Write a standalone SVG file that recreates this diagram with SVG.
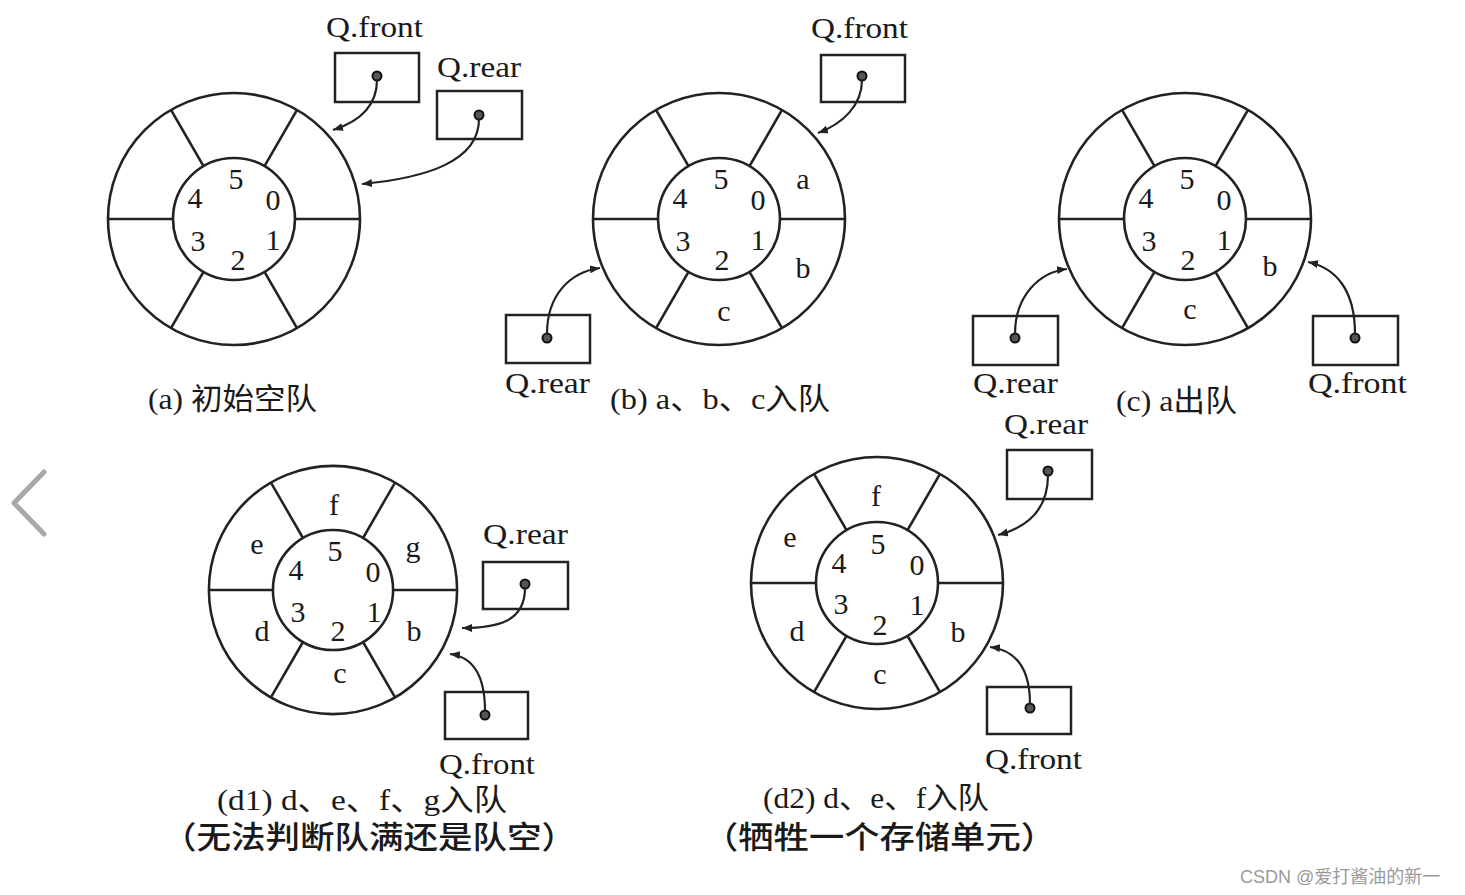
<svg xmlns="http://www.w3.org/2000/svg" xmlns:xlink="http://www.w3.org/1999/xlink" width="1465" height="895" viewBox="0 0 1465 895">
<style>
.ln{fill:none;stroke:#222;stroke-width:2.6}
.bx{fill:none;stroke:#222;stroke-width:2.5}
.dot{fill:#555;stroke:#111;stroke-width:2}
.cn{fill:none;stroke:#222;stroke-width:2.2}
text{font-family:"Liberation Serif","Noto Sans CJK SC",serif;fill:#1a1a1a}
.nm{font-size:30px;text-anchor:middle;dominant-baseline:central}
.lt{font-size:30px;text-anchor:middle;dominant-baseline:central}
.ql{font-size:30px}
.cap{font-size:30px}
.cap2{font-size:31px;font-weight:500}
.wm{font-family:"Liberation Sans","Noto Sans CJK SC",sans-serif;font-size:18px;fill:#9a9a9a}
</style>
<defs>
<g id="wheel">
<circle class="ln" r="126"/>
<circle class="ln" r="61"/>
<line class="ln" x1="61" y1="0" x2="126" y2="0"/>
<line class="ln" x1="-61" y1="0" x2="-126" y2="0"/>
<line class="ln" x1="30.5" y1="-52.8" x2="63" y2="-109.1"/>
<line class="ln" x1="-30.5" y1="-52.8" x2="-63" y2="-109.1"/>
<line class="ln" x1="30.5" y1="52.8" x2="63" y2="109.1"/>
<line class="ln" x1="-30.5" y1="52.8" x2="-63" y2="109.1"/>
</g>
<marker id="ah" markerUnits="userSpaceOnUse" markerWidth="12" markerHeight="10" refX="10" refY="4" orient="auto">
<path d="M0,0 L10,4 L0,8 Z" fill="#222"/>
</marker>
</defs>
<rect width="1465" height="895" fill="#fff"/>

<!-- (a) -->
<g id="qa">
<use xlink:href="#wheel" transform="translate(234,219)"/>
<text class="nm" x="236" y="178">5</text>
<text class="nm" x="195" y="197">4</text>
<text class="nm" x="273" y="199">0</text>
<text class="nm" x="198" y="240">3</text>
<text class="nm" x="238" y="259">2</text>
<text class="nm" x="273" y="239">1</text>
<text class="cap" x="148" y="409" textLength="169" lengthAdjust="spacingAndGlyphs">(a) 初始空队</text>
</g>
<g id="qa-front">
<rect class="bx" x="335" y="53" width="84" height="49"/>
<circle class="dot" cx="377" cy="76" r="4.5"/>
<text class="ql" x="326" y="37" textLength="97" lengthAdjust="spacingAndGlyphs">Q.front</text>
</g>
<g id="qa-rear">
<rect class="bx" x="437" y="91" width="85" height="48"/>
<circle class="dot" cx="479" cy="115" r="4.5"/>
<text class="ql" x="437" y="77" textLength="84" lengthAdjust="spacingAndGlyphs">Q.rear</text>
</g>

<!-- (b) -->
<g id="qb">
<use xlink:href="#wheel" transform="translate(719,219)"/>
<text class="nm" x="721" y="178">5</text>
<text class="nm" x="680" y="197">4</text>
<text class="nm" x="758" y="199">0</text>
<text class="nm" x="683" y="240">3</text>
<text class="nm" x="722" y="259">2</text>
<text class="nm" x="758" y="239">1</text>
<text class="lt" x="803" y="178">a</text>
<text class="lt" x="803" y="267">b</text>
<text class="lt" x="724" y="310">c</text>
<text class="cap" x="610" y="409" textLength="220" lengthAdjust="spacingAndGlyphs">(b) a、b、c入队</text>
</g>
<g id="qb-front">
<rect class="bx" x="821" y="55" width="84" height="47"/>
<circle class="dot" cx="862" cy="76" r="4.5"/>
<text class="ql" x="811" y="38" textLength="97" lengthAdjust="spacingAndGlyphs">Q.front</text>
</g>
<g id="qb-rear">
<rect class="bx" x="506" y="315" width="84" height="48"/>
<circle class="dot" cx="547" cy="338" r="4.5"/>
<text class="ql" x="505" y="393" textLength="85" lengthAdjust="spacingAndGlyphs">Q.rear</text>
</g>

<!-- (c) -->
<g id="qc">
<use xlink:href="#wheel" transform="translate(1185,219)"/>
<text class="nm" x="1187" y="178">5</text>
<text class="nm" x="1146" y="197">4</text>
<text class="nm" x="1224" y="199">0</text>
<text class="nm" x="1149" y="240">3</text>
<text class="nm" x="1188" y="259">2</text>
<text class="nm" x="1224" y="239">1</text>
<text class="lt" x="1270" y="265">b</text>
<text class="lt" x="1190" y="308">c</text>
<text class="cap" x="1116" y="411" textLength="121" lengthAdjust="spacingAndGlyphs">(c) a出队</text>
</g>
<g id="qc-rear">
<rect class="bx" x="973" y="316" width="85" height="49"/>
<circle class="dot" cx="1015" cy="338" r="4.5"/>
<text class="ql" x="973" y="393" textLength="85" lengthAdjust="spacingAndGlyphs">Q.rear</text>
</g>
<g id="qc-front">
<rect class="bx" x="1313" y="316" width="85" height="49"/>
<circle class="dot" cx="1355" cy="338" r="4.5"/>
<text class="ql" x="1308" y="393" textLength="99" lengthAdjust="spacingAndGlyphs">Q.front</text>
</g>

<!-- (d1) -->
<g id="qd1">
<use xlink:href="#wheel" transform="translate(333,590) scale(0.985)"/>
<text class="nm" x="335" y="550">5</text>
<text class="nm" x="296" y="569">4</text>
<text class="nm" x="373" y="571">0</text>
<text class="nm" x="298" y="611">3</text>
<text class="nm" x="338" y="630">2</text>
<text class="nm" x="374" y="611">1</text>
<text class="lt" x="334" y="504">f</text>
<text class="lt" x="257" y="543">e</text>
<text class="lt" x="413" y="546">g</text>
<text class="lt" x="262" y="630">d</text>
<text class="lt" x="414" y="630">b</text>
<text class="lt" x="340" y="672">c</text>
<text class="cap" x="217" y="810" textLength="290" lengthAdjust="spacingAndGlyphs">(d1) d、e、f、g入队</text>
<text class="cap2" x="162" y="848" textLength="414" lengthAdjust="spacingAndGlyphs">（无法判断队满还是队空）</text>
</g>
<g id="qd1-rear">
<rect class="bx" x="483" y="562" width="85" height="47"/>
<circle class="dot" cx="525" cy="584" r="4.5"/>
<text class="ql" x="483" y="544" textLength="85" lengthAdjust="spacingAndGlyphs">Q.rear</text>
</g>
<g id="qd1-front">
<rect class="bx" x="445" y="692" width="83" height="47"/>
<circle class="dot" cx="485" cy="715" r="4.5"/>
<text class="ql" x="439" y="774" textLength="96" lengthAdjust="spacingAndGlyphs">Q.front</text>
</g>

<!-- (d2) -->
<g id="qd2">
<use xlink:href="#wheel" transform="translate(877,583)"/>
<text class="nm" x="878" y="543">5</text>
<text class="nm" x="839" y="562">4</text>
<text class="nm" x="917" y="564">0</text>
<text class="nm" x="841" y="603">3</text>
<text class="nm" x="880" y="624">2</text>
<text class="nm" x="917" y="604">1</text>
<text class="lt" x="876" y="495">f</text>
<text class="lt" x="790" y="536">e</text>
<text class="lt" x="797" y="630">d</text>
<text class="lt" x="958" y="631">b</text>
<text class="lt" x="880" y="673">c</text>
<text class="cap" x="763" y="808" textLength="226" lengthAdjust="spacingAndGlyphs">(d2) d、e、f入队</text>
<text class="cap2" x="703" y="848" textLength="353" lengthAdjust="spacingAndGlyphs">（牺牲一个存储单元）</text>
</g>
<g id="qd2-rear">
<rect class="bx" x="1007" y="450" width="85" height="49"/>
<circle class="dot" cx="1048" cy="471" r="4.5"/>
<text class="ql" x="1004" y="434" textLength="84" lengthAdjust="spacingAndGlyphs">Q.rear</text>
</g>
<g id="qd2-front">
<rect class="bx" x="987" y="687" width="84" height="47"/>
<circle class="dot" cx="1030" cy="708" r="4.5"/>
<text class="ql" x="985" y="769" textLength="97" lengthAdjust="spacingAndGlyphs">Q.front</text>
</g>

<!-- connectors -->
<g id="connectors">
<path class="cn" marker-end="url(#ah)" d="M377,80 C377,108 358,122 333,130"/>
<path class="cn" marker-end="url(#ah)" d="M479,119 C479,162 425,178 362,184"/>
<path class="cn" marker-end="url(#ah)" d="M862,80 C862,106 842,124 818,133"/>
<path class="cn" marker-end="url(#ah)" d="M547,334 C547,295 570,272 600,268"/>
<path class="cn" marker-end="url(#ah)" d="M1015,334 C1015,295 1040,272 1067,269"/>
<path class="cn" marker-end="url(#ah)" d="M1355,334 C1355,290 1336,268 1308,262"/>
<path class="cn" marker-end="url(#ah)" d="M525,588 C525,622 497,628 462,628"/>
<path class="cn" marker-end="url(#ah)" d="M485,711 C485,678 474,657 450,654"/>
<path class="cn" marker-end="url(#ah)" d="M1048,475 C1048,512 1025,528 998,535"/>
<path class="cn" marker-end="url(#ah)" d="M1030,704 C1030,668 1015,650 990,647"/>
</g>

<polyline points="44,472 14,503 44,534" fill="none" stroke="#a8a8a8" stroke-width="5" stroke-linecap="round" stroke-linejoin="round"/>
<text class="wm" x="1240" y="883">CSDN @爱打酱油的新一</text>
</svg>
